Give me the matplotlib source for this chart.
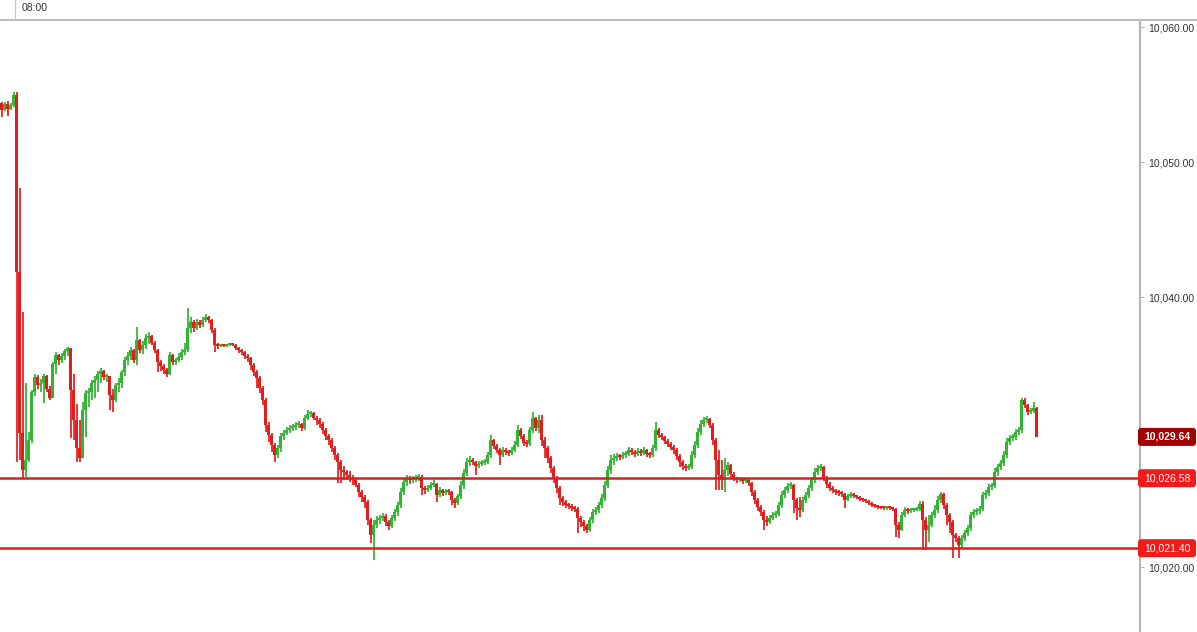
import matplotlib
matplotlib.use("Agg")
import matplotlib.pyplot as plt
from matplotlib.patches import FancyBboxPatch

plt.rcParams['font.family'] = ['Liberation Sans', 'DejaVu Sans']

# cours de cloture de chaque barre
first_open = 10054.37
closes = [
    10053.85, 10054.30, 10053.93, 10054.22, 10054.96, 10041.85, 10029.93, 10027.19, 10027.93, 10029.41,
    10032.96, 10034.07, 10033.48, 10033.63, 10034.15, 10033.19, 10032.52, 10035.04, 10035.70, 10035.33,
    10035.63, 10036.00, 10036.22, 10033.11, 10030.89, 10028.81, 10028.07, 10031.63, 10032.89, 10032.96,
    10033.63, 10033.85, 10034.30, 10034.52, 10034.07, 10034.15, 10032.74, 10032.37, 10033.48, 10033.63,
    10034.44, 10035.33, 10035.63, 10036.07, 10035.33, 10036.81, 10036.07, 10036.44, 10036.96, 10037.11,
    10036.59, 10036.07, 10035.19, 10034.89, 10034.59, 10034.30, 10035.70, 10035.19, 10035.33, 10035.56,
    10035.93, 10036.07, 10037.70, 10038.15, 10037.70, 10038.15, 10037.93, 10038.30, 10038.52, 10038.30,
    10037.56, 10036.44, 10036.37, 10036.44, 10036.37, 10036.44, 10036.52, 10036.44, 10036.22, 10036.07,
    10035.93, 10035.63, 10035.48, 10034.96, 10034.44, 10034.00, 10033.26, 10032.37, 10030.52, 10029.78,
    10029.04, 10028.30, 10028.81, 10029.70, 10029.93, 10030.15, 10030.30, 10030.37, 10030.52, 10030.59,
    10030.30, 10031.04, 10031.33, 10031.41, 10031.04, 10030.89, 10030.59, 10030.15, 10029.70, 10029.41,
    10028.81, 10028.30, 10027.78, 10027.19, 10027.04, 10026.81, 10026.59, 10026.44, 10026.07, 10025.56,
    10025.19, 10024.81, 10023.48, 10022.37, 10023.11, 10023.48, 10023.63, 10023.78, 10023.33, 10023.04,
    10023.63, 10024.07, 10024.59, 10025.56, 10026.30, 10026.59, 10026.44, 10026.52, 10026.59, 10026.67,
    10025.85, 10025.70, 10025.85, 10026.07, 10026.15, 10025.33, 10025.70, 10025.48, 10025.63, 10025.56,
    10024.96, 10024.74, 10025.26, 10026.07, 10026.96, 10027.78, 10027.93, 10027.78, 10027.48, 10027.63,
    10027.70, 10027.78, 10028.30, 10029.41, 10028.96, 10028.67, 10028.30, 10028.67, 10028.52, 10028.44,
    10028.67, 10029.04, 10030.15, 10029.70, 10029.19, 10029.11, 10030.15, 10031.04, 10030.30, 10030.89,
    10029.41, 10028.81, 10028.07, 10027.33, 10026.59, 10025.85, 10025.11, 10024.81, 10024.59, 10024.52,
    10024.37, 10024.30, 10023.63, 10023.33, 10023.04, 10022.74, 10023.48, 10024.07, 10024.22, 10024.59,
    10025.11, 10026.07, 10027.19, 10027.93, 10028.07, 10028.22, 10028.15, 10028.30, 10028.37, 10028.67,
    10028.52, 10028.37, 10028.59, 10028.44, 10028.67, 10028.37, 10028.30, 10028.81, 10030.15, 10029.78,
    10029.63, 10029.33, 10029.11, 10028.89, 10028.67, 10028.22, 10027.78, 10027.48, 10027.33, 10027.41,
    10028.30, 10029.04, 10030.00, 10030.59, 10030.89, 10030.96, 10030.52, 10029.41, 10027.93, 10026.81,
    10026.44, 10027.19, 10027.56, 10026.89, 10026.59, 10026.44, 10026.52, 10026.37, 10026.44, 10026.22,
    10025.56, 10024.96, 10024.44, 10024.07, 10023.48, 10023.33, 10023.63, 10023.85, 10023.93, 10024.59,
    10025.33, 10025.70, 10026.00, 10026.07, 10024.96, 10024.37, 10024.22, 10024.96, 10025.33, 10025.85,
    10026.44, 10027.04, 10027.33, 10027.41, 10026.59, 10026.15, 10025.85, 10025.70, 10025.56, 10025.48,
    10025.41, 10024.96, 10025.26, 10025.41, 10025.26, 10025.19, 10025.04, 10024.96, 10024.89, 10024.74,
    10024.59, 10024.52, 10024.44, 10024.41, 10024.37, 10024.44, 10024.37, 10024.30, 10023.11, 10022.74,
    10023.85, 10024.22, 10024.15, 10024.22, 10024.26, 10024.30, 10024.67, 10023.48, 10022.74, 10023.11,
    10023.85, 10024.22, 10024.96, 10025.41, 10024.59, 10023.85, 10023.33, 10022.37, 10022.15, 10021.63,
    10022.15, 10022.52, 10022.89, 10023.85, 10024.07, 10024.15, 10024.30, 10025.33, 10025.48, 10025.93,
    10026.00, 10027.04, 10027.41, 10027.70, 10028.30, 10029.26, 10029.56, 10029.63, 10030.00, 10030.15,
    10032.37, 10032.00, 10031.48, 10031.56, 10031.78, 10029.64,
]

highs = [
    10054.45, 10054.45, 10054.52, 10054.37, 10055.19, 10055.19, 10048.07, 10038.89, 10033.63, 10030.00,
    10033.11, 10034.30, 10034.22, 10033.90, 10034.30, 10034.22, 10033.41, 10035.19, 10035.93, 10035.78,
    10035.85, 10036.15, 10036.30, 10036.22, 10034.30, 10032.07, 10030.89, 10032.22, 10033.11, 10033.26,
    10033.85, 10034.15, 10034.52, 10034.74, 10034.59, 10034.30, 10034.15, 10033.19, 10033.63, 10034.00,
    10034.59, 10035.56, 10035.93, 10036.30, 10036.15, 10037.78, 10036.89, 10036.74, 10037.26, 10037.41,
    10037.19, 10036.74, 10036.15, 10035.33, 10035.04, 10034.74, 10035.93, 10035.78, 10035.48, 10035.85,
    10036.15, 10036.59, 10039.19, 10038.52, 10038.30, 10038.37, 10038.30, 10038.52, 10038.74, 10038.59,
    10038.37, 10037.70, 10036.59, 10036.52, 10036.52, 10036.52, 10036.59, 10036.59, 10036.52, 10036.30,
    10036.15, 10036.00, 10035.78, 10035.56, 10035.11, 10034.59, 10034.15, 10033.41, 10032.52, 10030.74,
    10029.93, 10029.19, 10029.04, 10029.93, 10030.15, 10030.37, 10030.52, 10030.59, 10030.74, 10030.81,
    10030.67, 10031.26, 10031.63, 10031.56, 10031.48, 10031.19, 10031.04, 10030.74, 10030.30, 10029.85,
    10029.56, 10028.96, 10028.44, 10027.93, 10027.48, 10027.19, 10027.11, 10026.81, 10026.59, 10026.22,
    10025.70, 10025.33, 10024.96, 10023.63, 10023.48, 10023.78, 10023.85, 10024.00, 10023.93, 10023.48,
    10023.85, 10024.30, 10024.81, 10025.85, 10026.59, 10026.81, 10026.74, 10026.74, 10026.81, 10026.89,
    10026.81, 10026.00, 10026.07, 10026.30, 10026.44, 10026.22, 10025.93, 10025.78, 10025.78, 10025.78,
    10025.63, 10025.11, 10025.41, 10026.37, 10027.26, 10028.07, 10028.22, 10028.07, 10027.85, 10027.85,
    10027.93, 10028.00, 10028.52, 10029.78, 10029.48, 10029.11, 10028.81, 10028.89, 10028.81, 10028.67,
    10028.89, 10029.33, 10030.52, 10030.30, 10029.85, 10029.41, 10030.37, 10031.48, 10031.11, 10031.26,
    10031.26, 10029.63, 10028.96, 10028.22, 10027.48, 10026.74, 10026.00, 10025.26, 10024.96, 10024.74,
    10024.67, 10024.52, 10024.44, 10023.78, 10023.48, 10023.19, 10023.70, 10024.30, 10024.44, 10024.81,
    10025.41, 10026.37, 10027.48, 10028.30, 10028.37, 10028.44, 10028.37, 10028.52, 10028.59, 10028.89,
    10028.81, 10028.67, 10028.81, 10028.74, 10028.89, 10028.74, 10028.52, 10029.04, 10030.74, 10030.30,
    10029.93, 10029.70, 10029.48, 10029.26, 10029.04, 10028.81, 10028.37, 10027.93, 10027.63, 10027.63,
    10028.59, 10029.33, 10030.30, 10030.89, 10031.11, 10031.19, 10031.04, 10030.67, 10029.56, 10028.67,
    10027.93, 10028.07, 10027.78, 10027.63, 10027.04, 10026.67, 10026.67, 10026.59, 10026.59, 10026.52,
    10026.30, 10025.70, 10025.11, 10024.59, 10024.22, 10023.78, 10023.85, 10024.07, 10024.15, 10024.81,
    10025.63, 10025.93, 10026.22, 10026.30, 10026.15, 10025.11, 10025.19, 10025.19, 10025.56, 10026.07,
    10026.67, 10027.33, 10027.56, 10027.63, 10027.48, 10026.74, 10026.30, 10026.00, 10025.78, 10025.70,
    10025.63, 10025.48, 10025.41, 10025.56, 10025.48, 10025.33, 10025.26, 10025.11, 10025.04, 10024.96,
    10024.81, 10024.67, 10024.59, 10024.52, 10024.52, 10024.52, 10024.52, 10024.44, 10024.37, 10023.33,
    10024.07, 10024.44, 10024.37, 10024.37, 10024.37, 10024.44, 10024.89, 10024.89, 10023.70, 10023.85,
    10024.07, 10024.59, 10025.26, 10025.56, 10025.48, 10024.74, 10024.00, 10023.48, 10022.52, 10022.30,
    10022.37, 10022.74, 10023.11, 10024.07, 10024.30, 10024.37, 10024.52, 10025.56, 10025.70, 10026.15,
    10026.22, 10027.33, 10027.63, 10027.93, 10028.59, 10029.56, 10029.78, 10029.85, 10030.22, 10030.37,
    10032.52, 10032.52, 10032.07, 10031.78, 10032.22, 10031.85,
]

lows = [
    10053.33, 10053.78, 10053.41, 10053.85, 10054.07, 10027.78, 10027.93, 10026.59, 10026.67, 10027.78,
    10029.20, 10032.70, 10033.20, 10032.96, 10032.15, 10032.96, 10032.37, 10032.52, 10034.30, 10034.96,
    10035.11, 10035.33, 10035.63, 10029.56, 10029.41, 10027.78, 10027.78, 10028.07, 10029.63, 10031.85,
    10032.37, 10032.52, 10032.96, 10033.63, 10033.85, 10033.70, 10031.63, 10031.48, 10032.22, 10032.96,
    10033.26, 10034.15, 10034.96, 10035.33, 10035.11, 10034.96, 10035.85, 10035.78, 10036.15, 10036.52,
    10036.44, 10035.85, 10034.44, 10034.52, 10034.30, 10034.07, 10034.22, 10034.96, 10034.96, 10035.19,
    10035.33, 10035.70, 10035.93, 10037.33, 10037.41, 10037.56, 10037.70, 10037.78, 10038.15, 10038.07,
    10037.33, 10035.93, 10036.15, 10036.30, 10036.30, 10036.30, 10036.37, 10036.37, 10036.07, 10035.85,
    10035.70, 10035.41, 10035.19, 10034.59, 10034.15, 10033.26, 10032.89, 10032.00, 10030.00, 10029.26,
    10028.52, 10027.78, 10028.07, 10028.52, 10029.41, 10029.78, 10029.93, 10030.07, 10030.15, 10030.30,
    10030.07, 10030.15, 10030.89, 10031.11, 10030.89, 10030.52, 10030.30, 10029.85, 10029.41, 10029.04,
    10028.52, 10027.93, 10026.22, 10026.22, 10026.44, 10026.44, 10026.30, 10026.07, 10025.93, 10025.19,
    10024.81, 10024.37, 10023.11, 10021.78, 10020.52, 10022.89, 10023.19, 10023.41, 10023.04, 10022.74,
    10022.89, 10023.41, 10023.78, 10024.37, 10025.33, 10026.00, 10026.15, 10026.22, 10026.30, 10026.37,
    10025.33, 10025.41, 10025.56, 10025.70, 10025.93, 10024.81, 10025.19, 10025.26, 10025.33, 10025.33,
    10024.59, 10024.37, 10024.59, 10025.04, 10025.78, 10026.74, 10027.48, 10027.56, 10026.81, 10027.33,
    10027.48, 10027.56, 10027.63, 10028.07, 10028.74, 10028.44, 10027.56, 10028.15, 10028.30, 10028.22,
    10028.30, 10028.52, 10028.89, 10029.48, 10028.96, 10028.89, 10028.96, 10029.93, 10030.07, 10029.93,
    10028.96, 10028.07, 10027.70, 10026.96, 10026.22, 10025.48, 10024.59, 10024.52, 10024.37, 10024.30,
    10024.15, 10024.07, 10022.52, 10022.96, 10022.67, 10022.52, 10022.59, 10023.26, 10023.85, 10024.00,
    10024.37, 10024.89, 10025.85, 10026.89, 10027.56, 10027.85, 10027.93, 10028.00, 10028.07, 10028.22,
    10028.30, 10028.15, 10028.22, 10028.22, 10028.30, 10028.15, 10028.07, 10028.15, 10028.59, 10029.56,
    10029.41, 10029.11, 10028.89, 10028.67, 10028.37, 10027.93, 10027.41, 10027.19, 10027.11, 10027.19,
    10027.26, 10028.07, 10028.81, 10029.78, 10030.37, 10030.67, 10030.30, 10029.04, 10025.70, 10025.70,
    10025.70, 10025.56, 10026.74, 10026.59, 10026.37, 10026.22, 10026.30, 10026.15, 10026.22, 10026.00,
    10025.26, 10024.67, 10024.15, 10023.78, 10022.74, 10023.04, 10023.19, 10023.48, 10023.63, 10023.78,
    10024.37, 10025.11, 10025.48, 10025.78, 10024.00, 10023.48, 10023.70, 10024.07, 10024.74, 10025.11,
    10025.63, 10026.22, 10026.81, 10027.11, 10026.37, 10025.85, 10025.63, 10025.48, 10025.33, 10025.26,
    10025.19, 10024.37, 10024.89, 10025.11, 10025.11, 10025.04, 10024.89, 10024.81, 10024.74, 10024.59,
    10024.44, 10024.37, 10024.30, 10024.30, 10024.26, 10024.26, 10024.26, 10024.15, 10022.22, 10022.15,
    10022.67, 10023.70, 10023.93, 10024.00, 10024.07, 10024.15, 10024.15, 10021.26, 10021.26, 10021.85,
    10022.96, 10023.63, 10024.00, 10024.74, 10024.30, 10023.11, 10022.52, 10020.67, 10021.85, 10020.67,
    10021.41, 10021.93, 10022.30, 10022.67, 10023.63, 10023.85, 10023.93, 10024.15, 10025.04, 10025.26,
    10025.70, 10025.85, 10026.74, 10027.19, 10027.48, 10028.07, 10029.04, 10029.33, 10029.41, 10029.78,
    10029.93, 10031.78, 10031.26, 10031.33, 10031.41, 10029.64,
]

# niveaux horizontaux et graduations
levels = [10026.58, 10021.40]
price_ticks = [10020, 10040, 10050, 10060]
time_labels = ["08:00"]
time_bars = [4.5]

# open = cloture precedente
opens = [first_open] + closes[:-1]

green = '#2fb52f'
red = '#e61c1c'
colors = [green if c >= o else red for o, c in zip(opens, closes)]
xs = list(range(len(closes)))
bottoms = [min(o, c) for o, c in zip(opens, closes)]
heights = [max(abs(c - o), 0.12) for o, c in zip(opens, closes)]

fig = plt.figure(figsize=(11.97, 6.32), dpi=100)
fig.patch.set_facecolor('white')
ax = fig.add_axes([0, 0, 1140 / 1197, 612 / 632])

ax.vlines(xs, lows, highs, colors=colors, linewidth=1.25, zorder=2)
ax.bar(xs, heights, bottom=bottoms, width=0.7, color=colors, linewidth=0, zorder=2)

for lv in levels:
    ax.axhline(lv, color='#d81f1f', linewidth=1.8, zorder=3)

ax.set_xlim(-0.5, 379.5)
ax.set_ylim(10015.19, 10060.52)
ax.set_xticks([])
ax.set_yticks(price_ticks)
ax.set_yticklabels([f"{t:,.2f}" for t in price_ticks])
ax.yaxis.tick_right()
ax.tick_params(axis='y', length=3, color='#b5b5b5', pad=3, labelsize=7.5, labelcolor='#333333')
for side in ['left', 'top', 'bottom']:
    ax.spines[side].set_visible(False)
ax.spines['right'].set_color('#b5b5b5')
ax.spines['right'].set_linewidth(1.5)

# calque en pixels pour le bandeau du haut et les etiquettes de prix
ov = fig.add_axes([0, 0, 1, 1], zorder=5)
ov.set_xlim(0, 1197)
ov.set_ylim(632, 0)
ov.axis('off')
ov.patch.set_alpha(0)

ov.plot([0, 1197], [20, 20], color='#bdbdbd', linewidth=1.5)
for lab, b in zip(time_labels, time_bars):
    xp = ax.transData.transform((b, 0))[0]
    ov.plot([xp, xp], [0, 18], color='#c8c8c8', linewidth=1)
    ov.text(xp + 7, 8, lab, ha='left', va='center', fontsize=7.5, color='#333333')


def price_box(p, fc, bold):
    yp = 632 - ax.transData.transform((0, p))[1]
    ov.add_patch(FancyBboxPatch((1138, yp - 9), 58, 18, boxstyle='round,pad=0,rounding_size=3',
                                facecolor=fc, edgecolor='none'))
    ov.text(1167, yp, f"{p:,.2f}", ha='center', va='center', color='white', fontsize=7.5,
            fontweight='bold' if bold else 'normal')


for lv in levels:
    price_box(lv, '#f51a1a', False)
price_box(closes[-1], '#a30000', True)

fig.savefig('out.png', dpi=100)
